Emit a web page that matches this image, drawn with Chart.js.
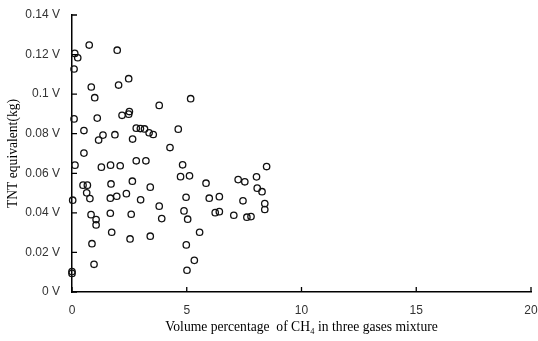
<!DOCTYPE html>
<html>
<head>
<meta charset="utf-8">
<script src="https://cdn.jsdelivr.net/npm/chart.js@4"></script>
<style>
html,body{margin:0;padding:0;background:#fff;}
#wrap{width:538px;height:341px;position:relative;}
</style>
</head>
<body>
<div id="wrap"><canvas id="c" width="538" height="341"></canvas></div>
<script>
const xValues = [0.12,0.25,0.09,0.75,1.97,2.47,2.03,0.84,0.99,5.17,3.80,2.50,2.47,2.18,0.09,1.10,2.80,2.98,3.16,3.36,3.54,4.63,0.52,1.35,1.16,1.87,2.64,4.27,0.52,0.13,1.28,1.68,2.10,2.80,3.22,4.82,4.73,5.12,5.84,6.42,5.98,6.24,6.42,0.48,0.67,0.64,0.78,0.03,1.70,2.63,1.67,1.95,2.37,3.41,2.99,0.83,1.05,1.05,1.67,2.58,3.80,3.91,1.73,2.53,3.41,0.87,0.96,0.00,0.00,4.97,4.88,5.04,5.56,4.98,5.33,5.01,7.24,7.53,8.04,8.07,8.28,8.48,7.45,8.40,8.40,7.05,7.62,7.80];
const yValues = [0.1206,0.1184,0.1127,0.1248,0.1222,0.1078,0.1046,0.1036,0.0982,0.0977,0.0943,0.0912,0.0899,0.0893,0.0875,0.0879,0.0828,0.0826,0.0824,0.0805,0.0796,0.0823,0.0816,0.0793,0.0768,0.0795,0.0773,0.0730,0.0702,0.0641,0.0631,0.0641,0.0638,0.0663,0.0663,0.0643,0.0583,0.0587,0.0550,0.0482,0.0474,0.0401,0.0406,0.0540,0.0540,0.0501,0.0472,0.0464,0.0546,0.0560,0.0474,0.0484,0.0497,0.0530,0.0466,0.0391,0.0366,0.0339,0.0398,0.0393,0.0434,0.0371,0.0302,0.0268,0.0282,0.0244,0.0140,0.0103,0.0094,0.0479,0.0410,0.0368,0.0302,0.0238,0.0160,0.0110,0.0568,0.0557,0.0582,0.0525,0.0507,0.0634,0.0461,0.0447,0.0417,0.0388,0.0378,0.0381];
const yTickLabels = ['0 V','0.02 V','0.04 V','0.06 V','0.08 V','0.1 V','0.12 V','0.14 V'];
const xTickLabels = ['0','5','10','15','20'];
const xTitle = 'Volume percentage  of CH\u2084 in three gases mixture';
const yTitle = 'TNT equivalent(kg)';

const points = xValues.map((v,i)=>({x:v,y:yValues[i]}));

const innerTicks = {
  id:'innerTicks',
  afterDraw(chart){
    const {ctx, chartArea:a, scales:{x,y}} = chart;
    ctx.save();
    ctx.strokeStyle='#000';
    ctx.lineWidth=1.3;
    ctx.beginPath();
    x.ticks.forEach(t=>{const px=x.getPixelForValue(t.value); ctx.moveTo(px,a.bottom); ctx.lineTo(px,a.bottom-5);});
    y.ticks.forEach(t=>{const py=y.getPixelForValue(t.value); ctx.moveTo(a.left,py); ctx.lineTo(a.left+5,py);});
    ctx.stroke();
    ctx.restore();
  }
};

new Chart(document.getElementById('c'), {
  type:'scatter',
  data:{datasets:[{
    data:points,
    pointStyle:'circle',
    pointRadius:3.2,
    pointHoverRadius:3.2,
    borderWidth:1.3,
    borderColor:'#111',
    backgroundColor:'rgba(0,0,0,0)',
    clip:false
  }]},
  options:{
    responsive:false,
    animation:false,
    events:[],
    layout:{padding:{top:15,right:7,left:0,bottom:0}},
    plugins:{legend:{display:false},tooltip:{enabled:false}},
    scales:{
      x:{
        type:'linear',min:0,max:20,
        afterFit(s){s.height=49;s.paddingLeft=0;s.paddingRight=0;},
        ticks:{stepSize:5,padding:11,color:'#333',font:{family:'"Liberation Sans", Arial, sans-serif',size:12},
          callback:(v,i)=>xTickLabels[i]},
        grid:{display:true,drawOnChartArea:false,drawTicks:false},
        border:{display:true,color:'#000',width:1.5},
        title:{display:true,text:xTitle,color:'#000',padding:{top:0,bottom:5},
          font:{family:'"Liberation Serif","Times New Roman",serif',size:13.6}}
      },
      y:{
        type:'linear',min:0,max:0.14,
        afterFit(s){s.width=72;s.paddingTop=0;s.paddingBottom=0;},
        ticks:{stepSize:0.02,padding:12,color:'#333',font:{family:'"Liberation Sans", Arial, sans-serif',size:12},
          callback:(v,i)=>yTickLabels[i]},
        grid:{display:true,drawOnChartArea:false,drawTicks:false},
        border:{display:true,color:'#000',width:1.5},
        title:{display:true,text:yTitle,color:'#000',padding:{top:5,bottom:0},
          font:{family:'"Liberation Serif","Times New Roman",serif',size:13.6}}
      }
    }
  },
  plugins:[innerTicks]
});
</script>
</body>
</html>
